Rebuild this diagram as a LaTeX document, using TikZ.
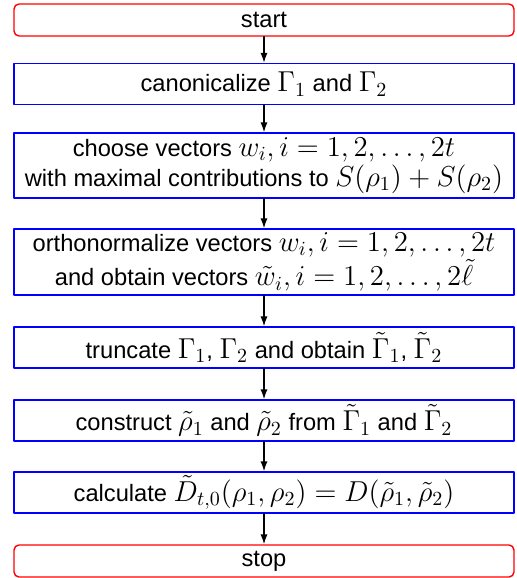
\documentclass[tikz,border=0pt]{standalone}
\usepackage{fontspec}
\setsansfont[Scale=0.8]{Liberation Sans}
\usetikzlibrary{arrows.meta}
\definecolor{Ered}{RGB}{255,0,0}
\definecolor{Sblue}{RGB}{0,0,255}

\begin{document}
\begin{tikzpicture}[x=0.5pt,y=-0.5pt,line cap=round,line join=round,
  endbox/.style={rectangle,rounded corners=2.5pt,draw=Ered,line width=0.7pt,minimum width=250pt,minimum height=16pt,inner sep=0pt,font=\sffamily\fontsize{14.8}{15}\selectfont},
  stepbox/.style={rectangle,draw=Sblue,line width=0.7pt,minimum width=250pt,minimum height=20.5pt,inner sep=0pt,align=center,font=\sffamily\fontsize{14.8}{15}\selectfont},
  flow/.style={-{Latex[length=5pt,width=3.6pt]},line width=0.7pt}]
\path[use as bounding box] (0,0) rectangle (516,578);
\node[endbox] (start) at (264,20) {start};
\node[stepbox] (canon) at (264,84) {canonicalize $\Gamma_1$ and $\Gamma_2$};
\node[stepbox,minimum height=32.5pt] (choose) at (264,165.5) {choose vectors $w_i, i=1,2,\ldots,2t$\\with maximal contributions to $S(\rho_1)+S(\rho_2)$};
\node[stepbox,minimum height=33pt] (ortho) at (264,262) {orthonormalize vectors $w_i, i=1,2,\ldots,2t$\\and obtain vectors $\tilde{w}_i, i=1,2,\ldots,2\tilde{\ell}$};
\node[stepbox] (trunc) at (264,347.5) {truncate $\Gamma_1$, $\Gamma_2$ and obtain $\tilde{\Gamma}_1$, $\tilde{\Gamma}_2$};
\node[stepbox] (constr) at (264,420.5) {construct $\tilde{\rho}_1$ and $\tilde{\rho}_2$ from $\tilde{\Gamma}_1$ and $\tilde{\Gamma}_2$};
\node[stepbox] (calc) at (264,492.5) {calculate $\tilde{D}_{t,0}(\rho_1,\rho_2)=D(\tilde{\rho}_1,\tilde{\rho}_2)$};
\node[endbox] (stop) at (264,561) {stop};
\draw[flow] (start) -- (canon);
\draw[flow] (canon) -- (choose);
\draw[flow] (choose) -- (ortho);
\draw[flow] (ortho) -- (trunc);
\draw[flow] (trunc) -- (constr);
\draw[flow] (constr) -- (calc);
\draw[flow] (calc) -- (stop);
\end{tikzpicture}
\end{document}
